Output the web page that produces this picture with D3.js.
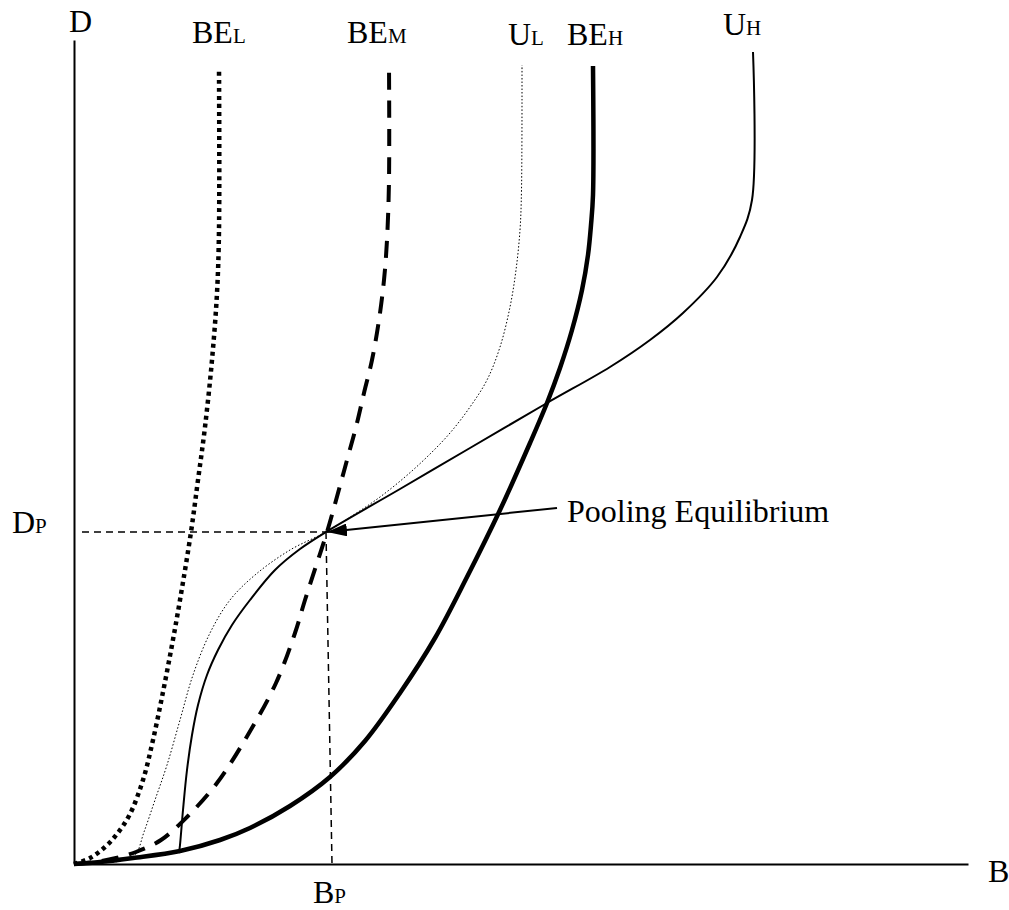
<!DOCTYPE html>
<html>
<head>
<meta charset="utf-8">
<script src="https://cdn.jsdelivr.net/npm/d3@7"></script>
<style>
  body { margin: 0; background: #fff; }
  text { font-family: "Liberation Serif", "Times New Roman", serif; fill: #000; }
</style>
</head>
<body>
<div class="chart"></div>
<script>
let FRAME_WIDTH = 1009;
let FRAME_HEIGHT = 910;
let ORIGIN = {x: 74, y: 864};

// curve values [B, D]
const BE_L = [[0,0],[16,6],[31,17],[43,30],[56,50],[69,84],[79,124],[89,172],[98,219],[106,264],
              [117,332],[124,384],[131,437],[138,504],[143,571],[145,634],[145,796]];
const BE_M = [[0,0],[21,2],[42,6],[62,12],[87,24],[113,47],[143,81],[175,131],[202,181],[221,231],
              [231,264],[242,298],[253,332],[264,371],[273,404],[282,437],[290,471],[298,504],
              [305,544],[310,584],[313,624],[315,684],[315,799]];
const U_L = [[0,0],[26,1],[46,3],[61,9],[70,32],[81,64],[93,99],[106,144],[119,189],[136,231],
             [156,264],[181,289],[216,314],[252,332],[281,350],[306,367],[331,387],[354,408],
             [376,431],[396,457],[413,484],[426,517],[436,557],[442,594],[446,634],[447.5,674],[448,799]];
const BE_H = [[0,0],[26,2],[59,6],[106,13],[146,24],[176,36],[216,58],[256,87],[291,123],[326,171],
              [361,226],[393,287],[426,354],[456,421],[473,461],[486,496],[498,534],[508,574],
              [514,609],[517,639],[519,669],[519,798]];
const U_H = [[105,11],[106,19],[109,54],[113,94],[118,129],[124,159],[133,189],[144,214],[158,239],
             [176,264],[201,294],[226,315],[252,332],[326,375],[396,416],[473,461],[536,497],
             [576,524],[609,551],[643,587],[666,627],[678,664],[679,812]];

const POOL = [252, 332];
const POOL_B = 258;     // where the vertical guide meets the B axis
const DP_START = 8;     // left end of the horizontal guide
const ARROW_FROM = [483, 356];

let svg = d3.select('.chart')
            .append("svg")
            .attr("width", FRAME_WIDTH)
            .attr("height", FRAME_HEIGHT);

// 1 unit = 1 pixel
const X_SCALE = d3.scaleLinear().domain([0, 894]).range([ORIGIN.x, 968]);
const Y_SCALE = d3.scaleLinear().domain([0, 824]).range([ORIGIN.y, 40]);

// axes, no ticks
svg.append("g")
   .attr("transform", "translate(0," + ORIGIN.y + ")")
   .call(d3.axisBottom(X_SCALE).tickValues([]).tickSizeOuter(0))
   .select(".domain").attr("stroke-width", 2);
svg.append("g")
   .attr("transform", "translate(" + ORIGIN.x + ",0)")
   .call(d3.axisLeft(Y_SCALE).tickValues([]).tickSizeOuter(0))
   .select(".domain").attr("stroke-width", 2);

const straight = d3.line()
                   .x(d => X_SCALE(d[0]))
                   .y(d => Y_SCALE(d[1]));
const smooth = d3.line()
                 .x(d => X_SCALE(d[0]))
                 .y(d => Y_SCALE(d[1]))
                 .curve(d3.curveCatmullRom.alpha(0.5));

// dashed guides
svg.append("path")
   .attr("d", straight([[DP_START, POOL[1]], POOL]))
   .attr("fill", "none").attr("stroke", "#000").attr("stroke-width", 1.5)
   .attr("stroke-dasharray", "7,5");
svg.append("path")
   .attr("d", straight([POOL, [POOL_B, 0]]))
   .attr("fill", "none").attr("stroke", "#000").attr("stroke-width", 1.5)
   .attr("stroke-dasharray", "7,5");

let curves = [
  {data: U_L, width: 1, dash: "1.5,2"},
  {data: BE_L, width: 4.5, dash: "4,4"},
  {data: BE_M, width: 4, dash: "17,11"},
  {data: U_H, width: 2, dash: null},
  {data: BE_H, width: 4.5, dash: null}
];

svg.selectAll(".curve")
   .data(curves)
   .enter()
   .append("path")
     .attr("class", "curve")
     .attr("d", d => smooth(d.data))
     .attr("fill", "none")
     .attr("stroke", "#000")
     .attr("stroke-width", d => d.width)
     .attr("stroke-dasharray", d => d.dash);

// arrow to the pooling point
svg.append("defs").append("marker")
   .attr("id", "head")
   .attr("markerUnits", "userSpaceOnUse")
   .attr("viewBox", "0 0 20 13")
   .attr("refX", 20).attr("refY", 6.5)
   .attr("markerWidth", 20).attr("markerHeight", 13)
   .attr("orient", "auto")
   .append("path")
     .attr("d", "M0,0 L20,6.5 L0,13 Z")
     .attr("fill", "#000");

svg.append("line")
   .attr("x1", X_SCALE(ARROW_FROM[0])).attr("y1", Y_SCALE(ARROW_FROM[1]))
   .attr("x2", X_SCALE(POOL[0]) + 1).attr("y2", Y_SCALE(POOL[1]))
   .attr("stroke", "#000").attr("stroke-width", 2)
   .attr("marker-end", "url(#head)");

// labels
function label(x, y, main, sub) {
  let t = svg.append("text")
             .attr("x", x).attr("y", y)
             .attr("font-size", 32);
  t.append("tspan").text(main);
  if (sub) t.append("tspan").attr("font-size", 21).text(sub);
}

label(69, 32, "D");
label(192, 43, "BE", "L");
label(347, 43, "BE", "M");
label(508, 45, "U", "L");
label(567, 45, "BE", "H");
label(723, 35, "U", "H");
label(12, 533, "D", "P");
label(313, 903, "B", "P");
label(988, 882, "B");
label(567, 522, "Pooling Equilibrium");
</script>
</body>
</html>
